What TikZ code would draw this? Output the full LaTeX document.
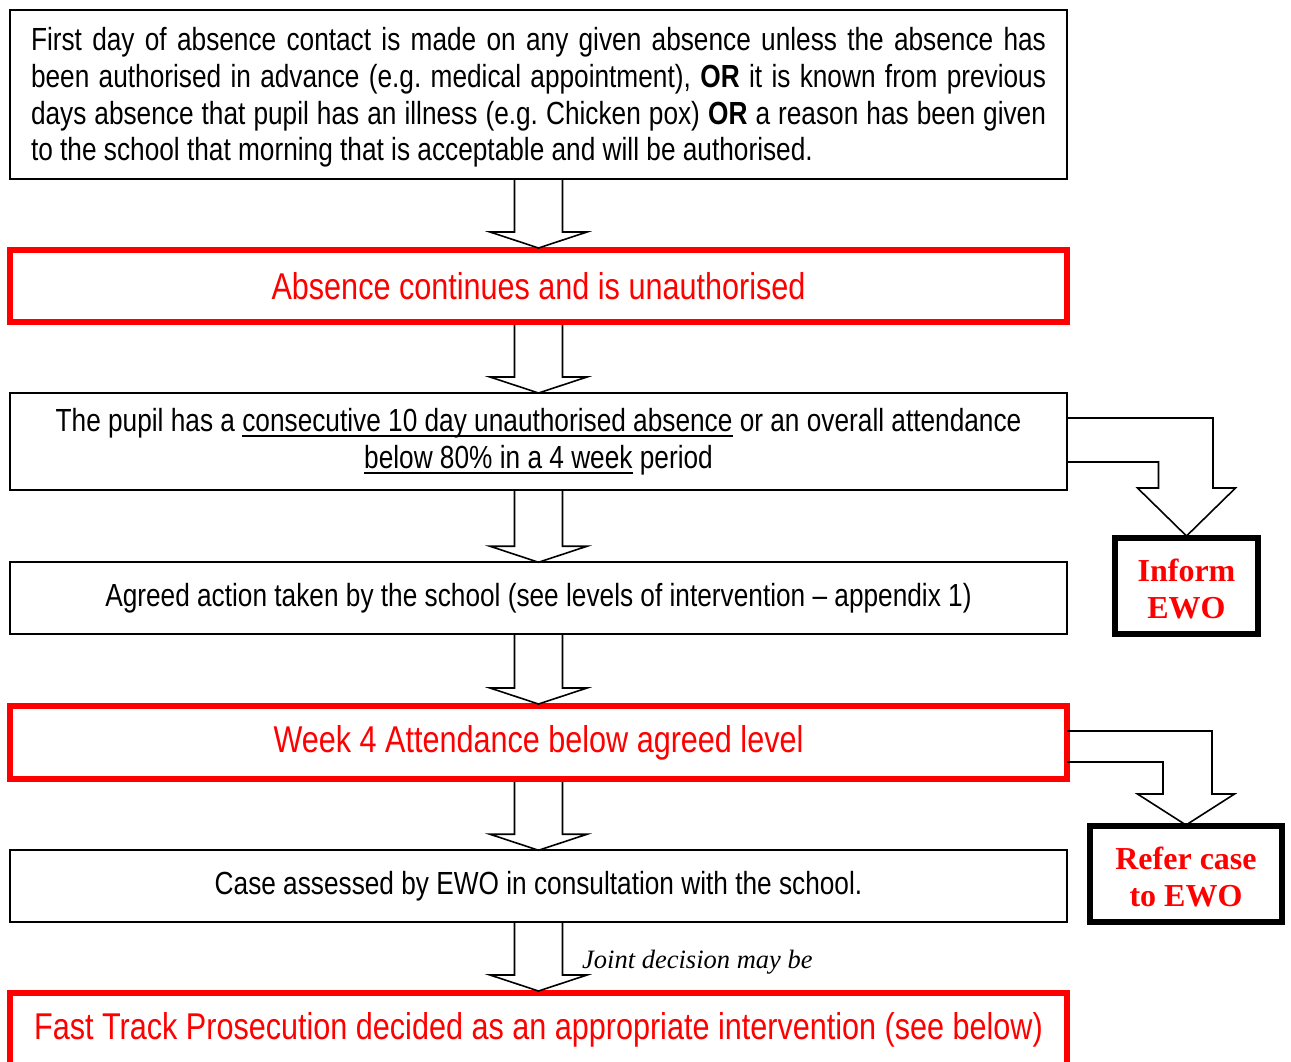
\documentclass[tikz,border=0pt]{standalone}
\usepackage{fontspec}
\setmainfont[FakeStretch=0.82]{Liberation Sans}
\newfontfamily\tnr{Liberation Serif}
\usetikzlibrary{calc}
\definecolor{pred}{RGB}{255,0,0}
\frenchspacing
\newsavebox\ulbox
\newcommand\ulx[1]{\sbox\ulbox{#1}\rlap{\rule[-5.5pt]{\wd\ulbox}{1.8pt}}\usebox\ulbox}
\newcommand\bodyfont{\fontsize{32}{36.7}\selectfont}
\newcommand\redfont{\fontsize{37.3}{42}\selectfont}
\newcommand\ewofont{\fontsize{32}{36.5}\selectfont\tnr\bfseries}
\tikzset{
  box/.style={draw=black, line width=2pt, minimum width=1057pt, inner sep=0pt, font=\bodyfont},
  redbox/.style={draw=pred, line width=6pt, minimum width=1057pt, text=pred, inner sep=0pt, font=\redfont},
  ewobox/.style={draw=black, line width=6pt, inner sep=0pt},
  ewotext/.style={text=pred, font=\ewofont, align=center, inner sep=0pt},
  blockarrow/.style={draw=black, line width=1.6pt, line join=miter},
}
\newcommand\downblock[2]{%
  \draw[blockarrow] let \p1=(#1.south), \p2=(#2.north) in
    (\x1-24pt,\y1) -- (\x1-24pt,\y2+15pt) -- (\x1-48.5pt,\y2+15pt) -- (\x1,\y2-1pt)
    -- (\x1+48.5pt,\y2+15pt) -- (\x1+24pt,\y2+15pt) -- (\x1+24pt,\y1);}
\begin{document}
\begin{tikzpicture}[x=1pt,y=-1pt]
\useasboundingbox (0,0) rectangle (1291,1061);
\clip (0,0) rectangle (1291,1061);
\fill[white] (0,0) rectangle (1291,1061);

\node[box, minimum height=169pt] (b1) at (538.5,94.5) {};
\node[font=\bodyfont, text width=1015pt, align=justify, inner sep=0pt] (b1t) at ([yshift=-3pt]b1.center)
 {\hyphenpenalty=10000 First day of absence contact is made on any given absence unless the absence has\linebreak
  been authorised in advance (e.g. medical appointment), \textbf{OR} it is known from previous\linebreak
  days absence that pupil has an illness (e.g. Chicken pox) \textbf{OR} a reason has been given\linebreak
  to the school that morning that is acceptable and will be authorised.};

\node[redbox, minimum height=72pt] (b2) at (538.5,286) {Absence continues and is unauthorised};

\node[box, minimum height=97pt, align=center] (b3) at (538.5,441.5)
 {The pupil has a \ulx{consecutive 10 day unauthorised absence} or an overall attendance\\
  \ulx{below 80\% in a 4 week} period};

\node[box, line width=1.5pt, minimum height=72pt] (b4) at (538.5,598)
 {Agreed action taken by the school (see levels of intervention -- appendix 1)};

\node[redbox, minimum height=73pt] (b5) at (538.5,742.5) {Week 4 Attendance below agreed level};

\node[box, line width=1.5pt, minimum height=72pt] (b6) at (538.5,886)
 {Case assessed by EWO in consultation with the school.};

\node[redbox, minimum height=74pt] (b7) at (538.5,1030)
 {Fast Track Prosecution decided as an appropriate intervention (see below)};

\node[ewobox, minimum width=143pt, minimum height=96pt] (inf) at (1186.5,586) {};
\node[ewotext] (inft) at ([yshift=-3pt]inf.center) {Inform\\EWO};
\node[ewobox, minimum width=192pt, minimum height=96pt] (ref) at (1186,874) {};
\node[ewotext] (reft) at ([yshift=-3pt]ref.center) {Refer case\\to EWO};

\node[anchor=base west, inner sep=0pt, font=\fontsize{26.5}{30}\selectfont\tnr\itshape] (jd) at (582,968)
 {Joint decision may be};

\downblock{b1}{b2}
\downblock{b2}{b3}
\downblock{b3}{b4}
\downblock{b4}{b5}
\downblock{b5}{b6}
\downblock{b6}{b7}

\draw[blockarrow] let \p1=(b3.east), \p2=(inf.north) in
  (\x1-1pt,\y1+23.5pt) -- (\x2+26.5pt,\y1+23.5pt) -- (\x2+26.5pt,\y2+47pt) -- (\x2+49pt,\y2+47pt)
  -- (\x2,\y2-1pt) -- (\x2-49pt,\y2+47pt) -- (\x2-28pt,\y2+47pt) -- (\x2-28pt,\y1-20.5pt) -- (\x1-1pt,\y1-20.5pt);

\draw[blockarrow] let \p1=(b5.east), \p2=(ref.north) in
  (\x1-3pt,\y1+11.5pt) -- (\x2+26pt,\y1+11.5pt) -- (\x2+26pt,\y2+29pt) -- (\x2+48.5pt,\y2+29pt)
  -- (\x2,\y2-2pt) -- (\x2-48.5pt,\y2+29pt) -- (\x2-23pt,\y2+29pt) -- (\x2-23pt,\y1-19.5pt) -- (\x1-3pt,\y1-19.5pt);
\end{tikzpicture}
\end{document}
